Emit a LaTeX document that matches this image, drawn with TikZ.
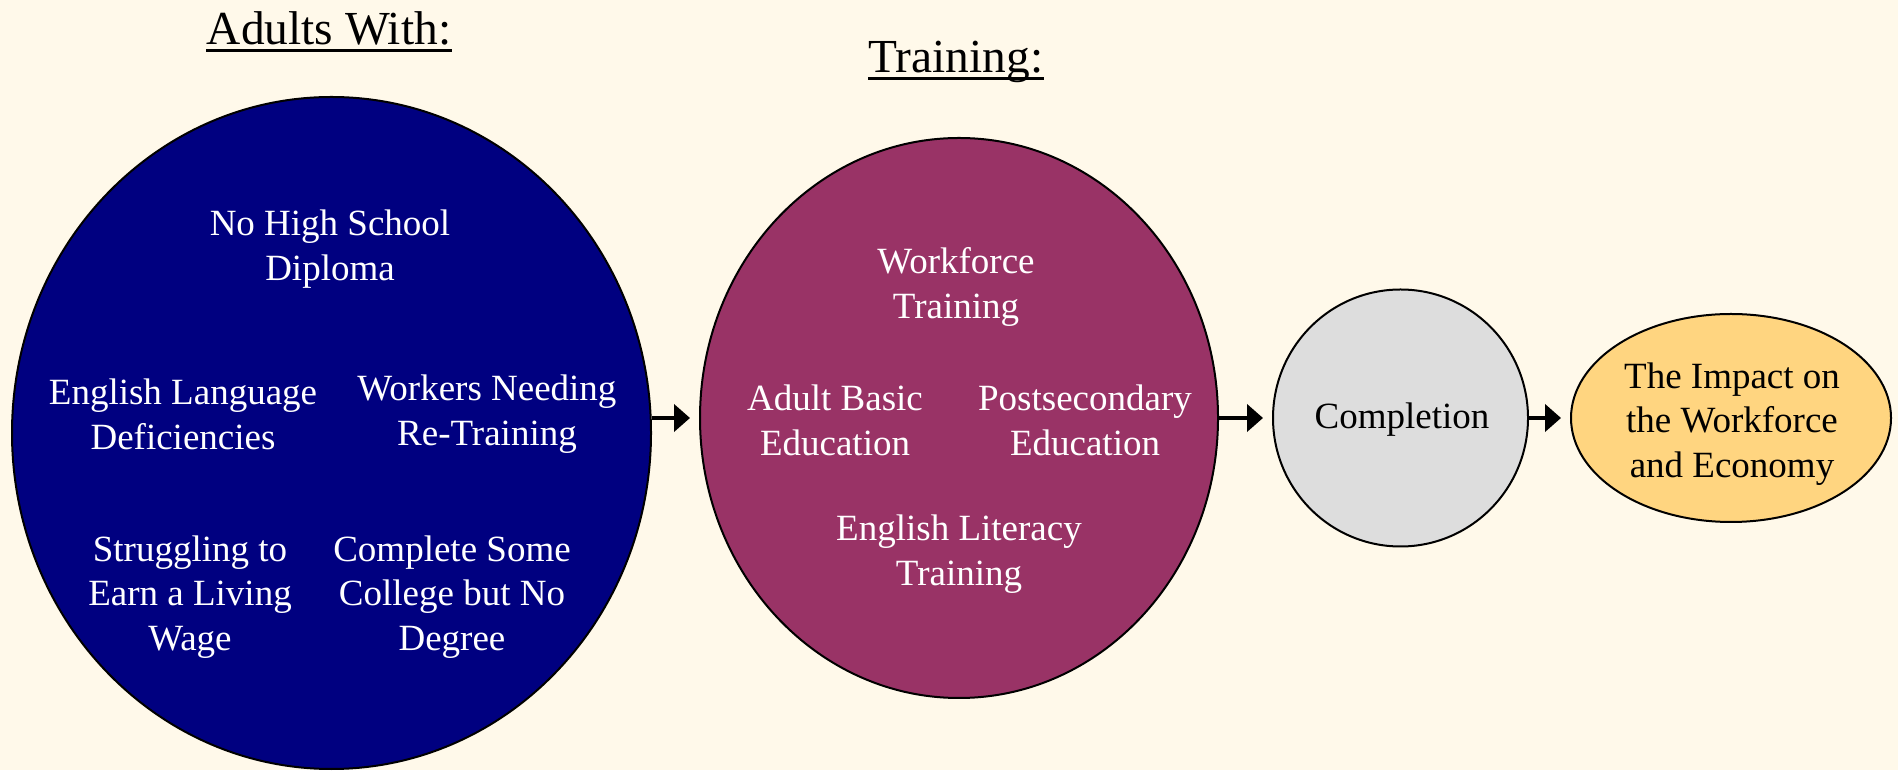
\documentclass[tikz,border=0pt]{standalone}
\usepackage{fontspec}
\setmainfont{Liberation Serif}
\usetikzlibrary{shapes.geometric,arrows.meta}
\definecolor{paper}{HTML}{FFF9EA}
\definecolor{navy}{HTML}{000080}
\definecolor{plum}{HTML}{993366}
\definecolor{stone}{HTML}{DDDDDD}
\definecolor{sand}{HTML}{FFD580}
\tikzset{
  blob/.style={ellipse,draw=black,line width=1pt,inner sep=0pt},
  words/.style={align=center,font=\rmfamily\fontsize{18.5}{22.4}\selectfont},
  heading/.style={font=\rmfamily\fontsize{23.7}{28}\selectfont,anchor=base,inner xsep=0pt},
  flow/.style={line width=2.4pt,-{Triangle[length=8pt,width=13.5pt]},shorten >=4.5pt}
}

\begin{document}
\begin{tikzpicture}[x=0.5pt,y=0.5pt]
\fill[paper] (0,0) rectangle (1898,770);
\useasboundingbox (0,0) rectangle (1898,770);
% the four stages
\node[blob,fill=navy,minimum width=319.5pt,minimum height=336pt] (adults) at (331.5,337) {};
\node[blob,fill=plum,minimum width=259pt,minimum height=280pt] (training) at (959,352) {};
\node[blob,fill=stone,minimum width=127.5pt,minimum height=128.5pt] (completion) at (1400.5,352) {};
\node[blob,fill=sand,minimum width=160pt,minimum height=104pt] (impact) at (1731,352) {};
% headings
\node[heading] (hadults) at (329,725) {Adults With:};
\node[heading] (htraining) at (956,697) {Training:};
\foreach \h in {hadults,htraining}
  \draw[line width=1.7pt] ([yshift=-2.8pt]\h.base west) -- ([yshift=-2.8pt]\h.base east);
% texts in the circles
\foreach \name/\x/\y/\txt in {
  nohs/330/521/{No High School\\Diploma},
  english/183/356/{English Language\\Deficiencies},
  workers/487/356/{Workers Needing\\Re-Training},
  wage/190/173/{Struggling to\\Earn a Living\\Wage},
  college/452/173/{Complete Some\\College but No\\Degree},
  workforce/956/483/{Workforce\\Training},
  basic/835/350/{Adult Basic\\Education},
  postsec/1085/350/{Postsecondary\\Education},
  literacy/959/216/{English Literacy\\Training}}
  \node[words,text=white] (\name) at (\x,\y) {\txt};
\node[words] (ctext) at (1402,350) {Completion};
\node[words] (itext) at (1732,346) {The Impact on\\the Workforce\\and Economy};
% arrows
\draw[flow] (adults.east |- training.west) -- (training.west);
\draw[flow] (training.east) -- (completion.west);
\draw[flow] (completion.east) -- (impact.west);
\end{tikzpicture}
\end{document}
